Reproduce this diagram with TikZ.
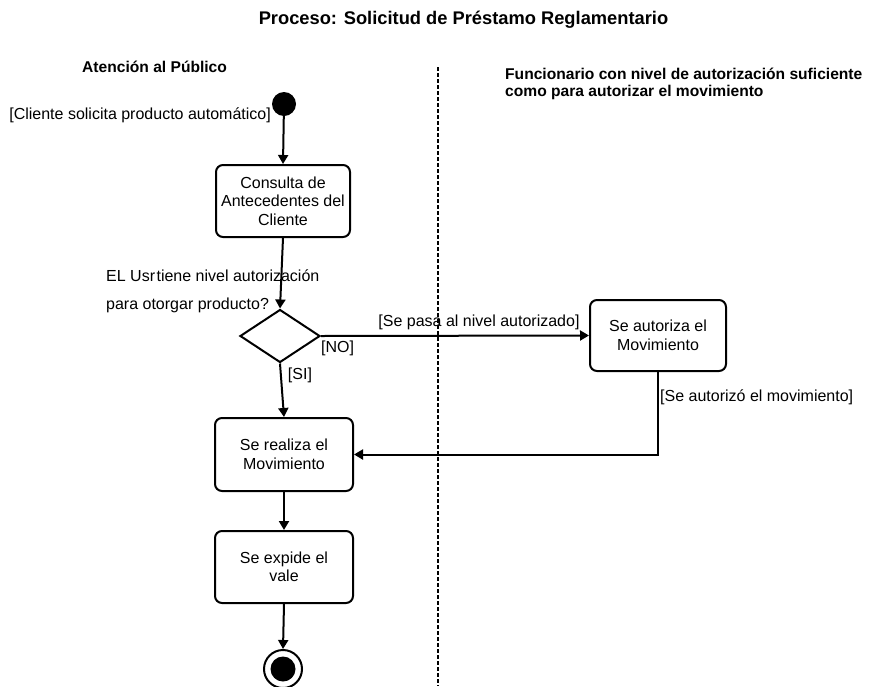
\documentclass[tikz,border=0pt]{standalone}
\usepackage{fontspec}
\setmainfont{Liberation Sans}
\usetikzlibrary{shapes.geometric,arrows.meta}
\begin{document}
\begin{tikzpicture}[x=1pt,y=-1pt,
  every node/.style={inner sep=0pt},
  txt/.style={font=\fontsize{16}{18.5}\selectfont},
  head/.style={font=\fontsize{15.6}{17}\selectfont\bfseries},
  activity/.style={draw, line width=2pt, rounded corners=7pt, align=center,
    font=\fontsize{16}{18.5}\selectfont},
  flow/.style={line width=2pt, -{Triangle[length=9pt,width=10pt]}},
  lane/.style={line width=1.5pt, dash pattern=on 4pt off 2pt}]
\useasboundingbox (0,0) rectangle (873,686);

% title and swimlane headers
\node[font=\fontsize{18.3}{20}\selectfont\bfseries] (title) at (463.5,20) {Proceso: Solicitud de Préstamo Reglamentario};
\node[head, anchor=west] (laneA) at (82,67) {Atención al Público};
\node[head, anchor=west, align=left] (laneB) at (505,83.5) {Funcionario con nivel de autorización suficiente\\como para autorizar el movimiento};

% lane separator
\coordinate (sepTop) at (438,67);
\coordinate (sepBot) at (438,686);
\draw[lane] (sepTop) -- (sepBot);

% initial state
\node[circle, fill=black, minimum size=24pt] (start) at (284,104) {};
\node[txt, anchor=east] (startLbl) at (271,115) {[Cliente solicita producto automático]};

% activities
\node[activity, minimum width=134pt, minimum height=72pt] (consulta) at (283,201) {Consulta de\\Antecedentes del\\Cliente};
\node[draw, diamond, line width=2pt, minimum width=80pt, minimum height=53pt] (dec) at (280,336) {};
\node[activity, minimum width=136pt, minimum height=71pt] (autoriza) at (658,335.5) {Se autoriza el\\Movimiento};
\node[activity, minimum width=138pt, minimum height=73pt] (realiza) at (284,454.5) {Se realiza el\\Movimiento};
\node[activity, minimum width=138pt, minimum height=72pt] (expide) at (284,567) {Se expide el\\vale};

% final state
\node[circle, draw, line width=2pt, minimum size=38pt] (fin) at (283,669) {};
\node[circle, fill=black, minimum size=25pt] (finDot) at (fin.center) {};

% decision guard text
\node[txt, anchor=west] (q1) at (106,276) {EL Usr\hspace{1.5pt}tiene nivel autorización};
\node[txt, anchor=west] (q2) at (106,305) {para otorgar producto?};

% transitions
\draw[flow] (start) -- (consulta.north);
\draw[flow] (consulta.south) -- (dec.north);
\draw[flow] (dec.east) -- (autoriza.west);
\draw[flow] (dec.south) -- (realiza.north);
\draw[flow] (autoriza.south) -- (autoriza.south |- realiza.east) -- (realiza.east);
\draw[flow] (realiza.south) -- (expide.north);
\draw[flow] (expide.south) -- (fin.north);

% transition labels
\node[txt] (lblPasa) at (479,322) {[Se pasa al nivel autorizado]};
\node[txt] (lblNo) at (337.5,348) {[NO]};
\node[txt] (lblSi) at (300,375) {[SI]};
\node[txt, anchor=west] (lblAut) at (660,397) {[Se autorizó el movimiento]};
\end{tikzpicture}
\end{document}
